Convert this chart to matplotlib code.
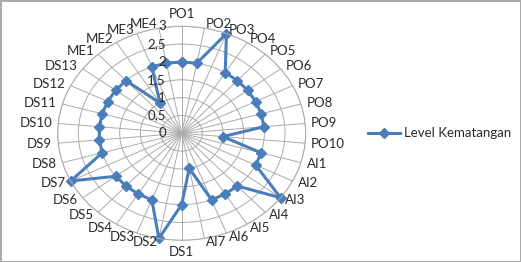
import numpy as np
import matplotlib.pyplot as plt
from matplotlib.transforms import ScaledTranslation

plt.rcParams['font.family'] = ['Lato', 'DejaVu Sans']

# data
kategori = ['PO1', 'PO2', 'PO3', 'PO4', 'PO5', 'PO6', 'PO7', 'PO8', 'PO9', 'PO10',
            'AI1', 'AI2', 'AI3', 'AI4', 'AI5', 'AI6', 'AI7',
            'DS1', 'DS2', 'DS3', 'DS4', 'DS5', 'DS6', 'DS7', 'DS8', 'DS9', 'DS10',
            'DS11', 'DS12', 'DS13',
            'ME1', 'ME2', 'ME3', 'ME4']
level = [2, 2, 3, 2, 2, 2, 2, 2, 2, 1,
         2, 2, 3, 2, 2, 2, 1,
         2, 3, 2, 2, 2, 2, 3, 2, 2, 2, 2, 2, 2,
         2, 1, 2, 2]
r_ticks = [0, 0.5, 1, 1.5, 2, 2.5, 3]
r_labels = ['0', '0,5', '1', '1,5', '2', '2,5', '3']

biru = '#4a7ebb'
abu = '#ababab'
teks = '#2a2a2a'
fs = 9.5

n = len(kategori)
sudut = np.arange(n) * 2 * np.pi / n

fig = plt.figure(figsize=(5.21, 2.62), dpi=100)
fig.patch.set_edgecolor(abu)
fig.patch.set_linewidth(2)

ax = fig.add_axes([0.1107, 0.0828, 0.476, 0.8168], projection='polar')
ax.set_aspect('auto')
ax.set_theta_zero_location('N')
ax.set_theta_direction(-1)
ax.set_ylim(0, 3)
ax.set_xticks(sudut)
ax.set_xticklabels([])
ax.set_yticks(r_ticks)
ax.set_yticklabels([])
ax.grid(color=abu, lw=0.7)
ax.spines['polar'].set_color(abu)
ax.spines['polar'].set_linewidth(0.75)

# series
ax.plot(np.append(sudut, sudut[0]), level + level[:1], color=biru, lw=2.2,
        marker='D', ms=5, label='Level Kematangan', clip_on=False)

# category labels
for t, lab in zip(sudut, kategori):
    s, c = np.sin(t), np.cos(t)
    if abs(s) < 0.01:
        ha = 'center'
        dx, dy = 0, 12 * np.sign(c)
    else:
        ha = 'left' if s > 0 else 'right'
        dx, dy = 6 * s, 4 * c
    tr = ax.transData + ScaledTranslation(dx / 100, dy / 100, fig.dpi_scale_trans)
    ax.text(t, 3, lab, ha=ha, va='center', fontsize=fs, color=teks, transform=tr)

# radial labels
tr = ax.transData + ScaledTranslation(-0.157, 0, fig.dpi_scale_trans)
for r, lab in zip(r_ticks, r_labels):
    ax.text(0, r, lab, ha='right', va='center', fontsize=fs, color=teks,
            transform=tr, zorder=5)

fig.legend(loc='center left', bbox_to_anchor=(368 / 521, 1 - 133.3 / 262),
           frameon=False, handlelength=2.4, handletextpad=0.3, borderpad=0,
           borderaxespad=0, fontsize=fs, labelcolor=teks)

fig.savefig('out.png', dpi=100)
